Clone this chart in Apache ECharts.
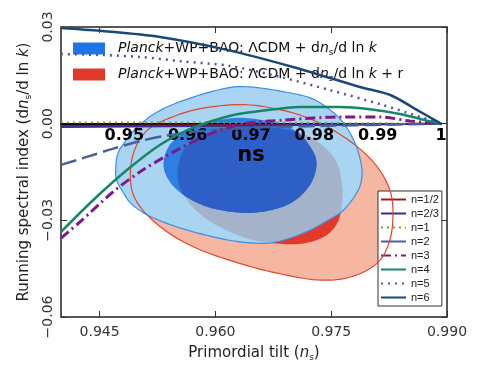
<!DOCTYPE html>
<html>
<head>
<meta charset="utf-8">
<script src="https://cdn.jsdelivr.net/npm/echarts@6/dist/echarts.min.js"></script>
<style>
html, body { margin: 0; padding: 0; background: #fff; }
#chart { width: 479px; height: 377px; }
</style>
</head>
<body>
<div id="chart"></div>
<script>
// contours in (ns, dns/dlnk)
const blueOuter = [[0.9616,0.0111],[0.9645,0.0114],[0.9684,0.0101],[0.9723,0.0080],[0.9749,0.0042],[0.9766,0.0002],[0.9777,-0.0041],[0.9785,-0.0088],[0.9790,-0.0150],[0.9785,-0.0206],[0.9766,-0.0268],[0.9742,-0.0305],[0.9723,-0.0330],[0.9697,-0.0355],[0.9671,-0.0370],[0.9645,-0.0370],[0.9616,-0.0361],[0.9581,-0.0342],[0.9551,-0.0321],[0.9526,-0.0299],[0.9507,-0.0277],[0.9490,-0.0246],[0.9481,-0.0215],[0.9472,-0.0175],[0.9471,-0.0138],[0.9473,-0.0097],[0.9480,-0.0066],[0.9499,-0.0010],[0.9529,0.0042],[0.9572,0.0083]];
const blueInner = [[0.9636,0.0018],[0.9680,0.0002],[0.9706,-0.0026],[0.9723,-0.0072],[0.9731,-0.0122],[0.9724,-0.0184],[0.9704,-0.0237],[0.9678,-0.0265],[0.9645,-0.0277],[0.9613,-0.0271],[0.9587,-0.0256],[0.9561,-0.0225],[0.9542,-0.0184],[0.9533,-0.0135],[0.9537,-0.0082],[0.9551,-0.0041],[0.9574,-0.0007],[0.9604,0.0011]];
const redOuter = [[0.9645,0.0058],[0.9701,0.0033],[0.9745,-0.0010],[0.9784,-0.0072],[0.9810,-0.0135],[0.9826,-0.0206],[0.9830,-0.0277],[0.9826,-0.0361],[0.9810,-0.0432],[0.9775,-0.0476],[0.9732,-0.0485],[0.9680,-0.0464],[0.9629,-0.0432],[0.9572,-0.0383],[0.9529,-0.0321],[0.9499,-0.0246],[0.9490,-0.0175],[0.9494,-0.0091],[0.9512,-0.0020],[0.9551,0.0027],[0.9594,0.0052]];
const redInner = [[0.9665,-0.0010],[0.9710,-0.0029],[0.9738,-0.0066],[0.9757,-0.0119],[0.9764,-0.0190],[0.9764,-0.0246],[0.9758,-0.0308],[0.9740,-0.0352],[0.9706,-0.0374],[0.9662,-0.0367],[0.9632,-0.0349],[0.9594,-0.0305],[0.9568,-0.0252],[0.9553,-0.0190],[0.9552,-0.0128],[0.9561,-0.0076],[0.9581,-0.0038],[0.9617,-0.0013]];

// model tracks, drawn against the inner ns axis (0.94 .. 1)
const lineNames = ['n=1/2', 'n=2/3', 'n=1', 'n=2', 'n=3', 'n=4', 'n=5', 'n=6'];
const nHalf = [[0.94,-0.0007],[0.97,-0.0004],[1.0,0]];
const nTwoThirds = [[0.94,-0.0010],[0.97,-0.0006],[1.0,0]];
const nOne = [[0.94,0.0004],[0.97,0.0003],[1.0,0]];
const nTwo = [[0.94,-0.0128],[0.9446,-0.0100],[0.9485,-0.0076],[0.9525,-0.0054],[0.9564,-0.0038],[0.9619,-0.0023],[0.9698,-0.0013],[0.9809,-0.0007],[1.0,0]];
const nThree = [[0.94,-0.0355],[0.9430,-0.0305],[0.9482,-0.0212],[0.9529,-0.0144],[0.9583,-0.0082],[0.9635,-0.0032],[0.9687,-0.0001],[0.9751,0.0011],[0.9845,0.0021],[0.9904,0.0021],[0.9951,0.0008],[1.0,0]];
const nFour = [[0.94,-0.0336],[0.9451,-0.0237],[0.9504,-0.0144],[0.9556,-0.0066],[0.9608,-0.0013],[0.9672,0.0027],[0.9714,0.0039],[0.9777,0.0052],[0.9841,0.0052],[0.9888,0.0045],[0.9935,0.0030],[0.9975,0.0011],[1.0,0]];
const nFive = [[0.94,0.0216],[0.9466,0.0213],[0.9525,0.0207],[0.9588,0.0194],[0.9667,0.0179],[0.9746,0.0145],[0.9825,0.0104],[0.9908,0.0058],[0.9967,0.0021],[1.0,0]];
const nSix = [[0.94,0.0297],[0.9462,0.0288],[0.9556,0.0269],[0.9662,0.0229],[0.9766,0.0176],[0.9872,0.0114],[0.9920,0.0089],[0.9959,0.0046],[1.0,0]];

const xTicks = [0.945, 0.960, 0.975, 0.990];
const yMin = -0.06, yMax = 0.03;

const FONT = 'DejaVu Sans';
const plotTop = 27, plotH = 290;

// closed Catmull-Rom pass over pixel points, only for drawing the outlines smoothly
function smoothClosed(pts, steps) {
    const out = [], n = pts.length;
    for (let i = 0; i < n; i++) {
        const p0 = pts[(i - 1 + n) % n], p1 = pts[i], p2 = pts[(i + 1) % n], p3 = pts[(i + 2) % n];
        for (let s = 0; s < steps; s++) {
            const t = s / steps, t2 = t * t, t3 = t2 * t;
            out.push([0, 1].map(k => 0.5 * (2 * p1[k] + (-p0[k] + p2[k]) * t +
                (2 * p0[k] - 5 * p1[k] + 4 * p2[k] - p3[k]) * t2 +
                (-p0[k] + 3 * p1[k] - 3 * p2[k] + p3[k]) * t3)));
        }
    }
    return out;
}

// clip polygon 'subj' with convex polygon 'clip' (Sutherland-Hodgman)
function clipPoly(subj, clip) {
    let area = 0;
    for (let i = 0; i < clip.length; i++) {
        const a = clip[i], b = clip[(i + 1) % clip.length];
        area += a[0] * b[1] - b[0] * a[1];
    }
    const sg = area > 0 ? 1 : -1;
    const side = (a, b, p) => sg * ((b[0] - a[0]) * (p[1] - a[1]) - (b[1] - a[1]) * (p[0] - a[0]));
    let out = subj;
    for (let i = 0; i < clip.length; i++) {
        const a = clip[i], b = clip[(i + 1) % clip.length];
        const inp = out;
        out = [];
        for (let j = 0; j < inp.length; j++) {
            const p = inp[j], q = inp[(j + 1) % inp.length];
            const dp = side(a, b, p), dq = side(a, b, q);
            if (dp >= 0) out.push(p);
            if ((dp >= 0) !== (dq >= 0)) {
                const t = dp / (dp - dq);
                out.push([p[0] + t * (q[0] - p[0]), p[1] + t * (q[1] - p[1])]);
            }
        }
    }
    return out;
}

function shape(api, data) {
    return smoothClosed(data.map(p => api.coord(p)), 8);
}

// one custom series per layer; 'clipBy' gives the part of 'data' inside another contour
function poly(name, data, style, z, color, clipBy) {
    return {
        type: 'custom', name: name, xAxisIndex: 0, yAxisIndex: 0, z: z, silent: true,
        itemStyle: { color: color || style.fill },
        data: data,
        renderItem: function (params, api) {
            if (params.dataIndex !== 0) return null;
            let pts = shape(api, data);
            if (clipBy) pts = clipPoly(pts, shape(api, clipBy));
            return { type: 'polygon', shape: { points: pts }, style: style };
        }
    };
}

function track(name, data, color, width, type) {
    return {
        type: 'line', name: name, xAxisIndex: 1, yAxisIndex: 2, z: 10, clip: false,
        data: data, symbol: 'none', showSymbol: false, smooth: 0.3,
        lineStyle: { color: color, width: width, type: type },
        itemStyle: { color: color }
    };
}

const sub = { fontSize: 9, verticalAlign: 'bottom', lineHeight: 11, fontFamily: FONT };
const ital = { fontStyle: 'italic', fontFamily: FONT };

const chart = echarts.init(document.getElementById('chart'));

const option = {
    animation: false,
    backgroundColor: '#fff',
    grid: [
        { left: 61, top: plotTop, width: 386, height: plotH, show: true, borderColor: '#222', borderWidth: 1.5, backgroundColor: 'transparent' },
        // inner ns axis: its bottom edge sits on running = 0
        { left: 61, top: plotTop, width: 380, height: plotH * yMax / (yMax - yMin) }
    ],
    legend: [
        {
            data: [
                { name: 'bao', icon: 'rect', itemStyle: { color: '#1f74e6' } },
                { name: 'baor', icon: 'rect', itemStyle: { color: '#e0392b' } }
            ],
            orient: 'vertical', left: 73, top: 40, padding: 0,
            itemWidth: 32, itemHeight: 12, itemGap: 9,
            selectedMode: false,
            formatter: function (name) {
                const base = '{i|Planck}+WP+BAO: ΛCDM + d{i|n}{s|s}/d ln {i|k}';
                return name === 'bao' ? base : base + ' + r';
            },
            textStyle: {
                fontFamily: FONT, fontSize: 14, color: '#111', lineHeight: 17, padding: [0, 0, 0, 8],
                rich: { i: Object.assign({ fontSize: 14 }, ital), s: sub }
            }
        },
        {
            data: lineNames.map(n => n === 'n=2' ? { name: n, lineStyle: { type: 'solid' } } : n),
            orient: 'vertical', left: 378, top: 191,
            backgroundColor: '#fff', borderColor: '#333', borderWidth: 1,
            padding: [2, 3, 2, 2], itemWidth: 25, itemHeight: 8, itemGap: 1,
            selectedMode: false,
            itemStyle: { opacity: 0 },
            textStyle: { fontFamily: 'Liberation Sans', fontSize: 11, color: '#222', lineHeight: 13 }
        }
    ],
    xAxis: [
        {
            gridIndex: 0, type: 'value', min: 0.94, max: 0.99, position: 'bottom',
            axisLine: { show: false, onZero: false },
            axisTick: { inside: true, length: 6, customValues: xTicks, lineStyle: { color: '#333' } },
            axisLabel: { customValues: xTicks, formatter: v => v.toFixed(3), margin: 8, fontFamily: FONT, fontSize: 14, color: '#333' },
            splitLine: { show: false },
            name: 'Primordial tilt ({i|n}{s|s})', nameLocation: 'middle', nameGap: 26,
            nameTextStyle: { fontFamily: FONT, fontSize: 15, color: '#222', lineHeight: 18,
                rich: { i: Object.assign({ fontSize: 15 }, ital), s: sub } }
        },
        {
            gridIndex: 1, type: 'value', min: 0.94, max: 1.0, interval: 0.01, z: 9, position: 'bottom',
            axisLine: { show: true, onZero: false, lineStyle: { color: '#000', width: 2 } },
            axisTick: { show: false },
            axisLabel: { showMinLabel: false, formatter: v => (v >= 0.9999 ? '1' : v.toFixed(2)),
                margin: 4, fontFamily: FONT, fontSize: 16, fontWeight: 'bold', color: '#000' },
            splitLine: { show: false },
            name: 'ns', nameLocation: 'middle', nameGap: 15,
            nameTextStyle: { fontFamily: FONT, fontSize: 21, fontWeight: 'bold', color: '#000' }
        },
        {
            gridIndex: 0, type: 'value', min: 0.94, max: 0.99, position: 'top',
            axisLine: { show: false, onZero: false },
            axisTick: { inside: true, length: 6, customValues: xTicks, lineStyle: { color: '#333' } },
            axisLabel: { show: false },
            splitLine: { show: false }
        }
    ],
    yAxis: [
        {
            gridIndex: 0, type: 'value', min: yMin, max: yMax, interval: 0.03,
            axisLine: { show: false, onZero: false },
            axisTick: { inside: true, length: 6, lineStyle: { color: '#333' } },
            axisLabel: {
                rotate: 90, margin: 6, fontFamily: FONT, fontSize: 14, color: '#333',
                formatter: function (v) {
                    const r = Math.round(v * 100);
                    return (r < 0 ? '\u2212' : '') + (Math.abs(r) / 100).toFixed(2);
                }
            },
            splitLine: { show: false },
            name: 'Running spectral index (d{i|n}{s|s}/d ln {i|k})', nameLocation: 'middle', nameGap: 19,
            nameTextStyle: { fontFamily: FONT, fontSize: 15, color: '#222', lineHeight: 18,
                rich: { i: Object.assign({ fontSize: 15 }, ital), s: sub } }
        },
        {
            gridIndex: 0, type: 'value', min: yMin, max: yMax, interval: 0.03, position: 'right',
            axisLine: { show: false, onZero: false },
            axisTick: { inside: true, length: 6, lineStyle: { color: '#333' } },
            axisLabel: { show: false },
            splitLine: { show: false }
        },
        { gridIndex: 1, type: 'value', min: 0, max: yMax, show: false }
    ],
    series: [
        poly('c-red2', redOuter, { fill: '#f5b6a2' }, 2),
        poly('baor', redInner, { fill: '#e3392a' }, 3, '#e0392b'),
        poly('c-blue2', blueOuter, { fill: '#a9d5f2' }, 4),
        poly('c-grey', redInner, { fill: '#a4b3c9' }, 5, null, blueOuter),
        poly('c-red2-edge', redOuter, { fill: 'none', stroke: '#de4630', lineWidth: 1.2 }, 6, '#de4630'),
        poly('c-blue2-edge', blueOuter, { fill: 'none', stroke: '#3b8de6', lineWidth: 1.2 }, 6, '#3b8de6'),
        poly('bao', blueInner, { fill: '#2f7ee2' }, 7, '#1f74e6'),
        poly('c-dark', blueInner, { fill: '#2d5fc6' }, 8, null, redInner),
        track('n=1/2', nHalf, '#9a1c1c', 2, 'solid'),
        track('n=2/3', nTwoThirds, '#3b2b8c', 2, 'solid'),
        track('n=1', nOne, '#7f9a2e', 2, [2, 4]),
        track('n=2', nTwo, '#44619c', 2.5, [16, 6]),
        track('n=3', nThree, '#7d1a86', 3, [10, 4, 2, 4]),
        track('n=4', nFour, '#14876a', 2.5, 'solid'),
        track('n=5', nFive, '#5b4eaa', 2.5, [2, 5]),
        track('n=6', nSix, '#1b4877', 2.5, 'solid')
    ]
};

chart.setOption(option);
</script>
</body>
</html>
